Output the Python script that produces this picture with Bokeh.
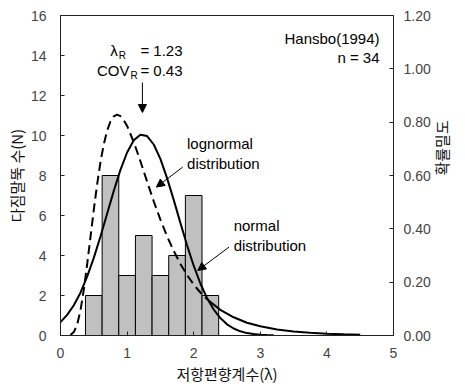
import math
from bokeh.plotting import figure
from bokeh.models import (Range1d, LinearAxis, FixedTicker, NumeralTickFormatter,
                          Arrow, NormalHead, Label, ColumnDataSource)
from bokeh.embed import file_html
from bokeh.resources import INLINE

# ---------------- data ----------------
bin_centers = [0.5, 0.75, 1.0, 1.25, 1.5, 1.75, 2.0, 2.25]
counts = [2, 8, 3, 5, 3, 4, 7, 2]
bin_width = 0.25

normal_x = [0.0, 0.1, 0.2, 0.3, 0.4, 0.5, 0.6, 0.7, 0.8, 0.9, 1.0, 1.1, 1.2,
            1.3, 1.4, 1.5, 1.6, 1.7, 1.8, 1.9, 2.0, 2.1, 2.2, 2.3, 2.4, 2.5,
            2.6, 2.7, 2.8, 2.9, 3.0, 3.1, 3.2]
normal_y = [0.67, 1.03, 1.51, 2.14, 2.94, 3.88, 4.95, 6.09, 7.23, 8.28, 9.15,
            9.76, 10.04, 9.97, 9.55, 8.83, 7.87, 6.78, 5.63, 4.51, 3.49, 2.60,
            1.87, 1.30, 0.87, 0.56, 0.35, 0.21, 0.12, 0.07, 0.04, 0.02, 0.01]

lognormal_x = [0.15, 0.2, 0.25, 0.3, 0.35, 0.4, 0.45, 0.5, 0.55, 0.6, 0.65,
               0.7, 0.75, 0.8, 0.85, 0.9, 0.95, 1.0, 1.1, 1.2, 1.3, 1.4, 1.5,
               1.6, 1.7, 1.8, 1.9, 2.0, 2.1, 2.2, 2.4, 2.6, 2.8, 3.0, 3.25,
               3.5, 3.75, 4.0, 4.25, 4.5]
lognormal_y = [0.03, 0.17, 0.55, 1.26, 2.29, 3.55, 4.92, 6.29, 7.56, 8.67,
               9.56, 10.24, 10.70, 10.96, 11.04, 10.97, 10.77, 10.48, 9.67,
               8.71, 7.70, 6.71, 5.79, 4.96, 4.23, 3.58, 3.03, 2.55, 2.15,
               1.81, 1.28, 0.91, 0.64, 0.46, 0.30, 0.20, 0.135, 0.09, 0.06,
               0.04]

x_ticks = [0, 1, 2, 3, 4, 5]
left_ticks = [0, 2, 4, 6, 8, 10, 12, 14, 16]
right_ticks = [0.0, 0.2, 0.4, 0.6, 0.8, 1.0, 1.2]

mean_lambda = 1.23
cov_lambda = 0.43
n_piles = 34

# ---------------- figure ----------------
TICK_FONT = "Liberation Sans"
KR_FONT = "Noto Sans CJK KR"

p = figure(width=465, height=392, x_range=Range1d(0, 5), y_range=Range1d(0, 16),
           output_backend="svg", toolbar_location=None,
           min_border_left=60, min_border_right=69, min_border_top=15,
           min_border_bottom=57)
p.background_fill_color = "white"
p.border_fill_color = "white"
p.outline_line_color = "#222222"
p.outline_line_width = 1
p.xgrid.visible = False
p.ygrid.visible = False
p.extra_y_ranges = {"pdf": Range1d(0, 1.2)}

src = ColumnDataSource(dict(x=bin_centers, top=counts))
p.vbar(x="x", top="top", width=bin_width, bottom=0, source=src,
       fill_color="#c0c0c0", line_color="black", line_width=1)

split = lognormal_x.index(2.2)
p.line(lognormal_x[:split + 1], lognormal_y[:split + 1], line_color="black",
       line_width=2, line_dash="9 5")
p.line(lognormal_x[split:], lognormal_y[split:], line_color="black",
       line_width=2)
p.line(normal_x, normal_y, line_color="black", line_width=2)

# axes
def style_axis(ax, standoff):
    ax.axis_line_color = "#222222"
    ax.major_tick_in = 4
    ax.major_tick_out = 0
    ax.minor_tick_line_color = None
    ax.major_tick_line_color = "#222222"
    ax.major_label_text_font = TICK_FONT
    ax.major_label_text_font_size = "14px"
    ax.major_label_text_color = "#444444"
    ax.major_label_standoff = standoff
    ax.axis_label_text_font = KR_FONT
    ax.axis_label_text_font_size = "15px"
    ax.axis_label_text_font_style = "normal"
    ax.axis_label_text_color = "#111111"

xa = p.xaxis[0]
xa.ticker = FixedTicker(ticks=x_ticks)
xa.axis_label = "저항편향계수(λ)"
style_axis(xa, 12)
xa.axis_label_standoff = 2

ya = p.yaxis[0]
ya.ticker = FixedTicker(ticks=left_ticks)
ya.axis_label = "다짐말뚝 수(N)"
style_axis(ya, 14)
ya.axis_label_standoff = 1

ra = LinearAxis(y_range_name="pdf", ticker=FixedTicker(ticks=right_ticks),
                formatter=NumeralTickFormatter(format="0.00"),
                axis_label="확률밀도")
style_axis(ra, 10)
ra.axis_label_standoff = 8
ra.axis_label_orientation = math.pi / 2
p.add_layout(ra, "right")

# annotations
def lab(x, y, text, size="15px", align="left", font=TICK_FONT):
    p.add_layout(Label(x=x, y=y, text=text, text_font=font,
                       text_font_size=size, text_align=align,
                       text_baseline="middle", text_color="black"))

lab(0.86, 14.25, "λ", align="right")
lab(0.875, 14.0, "R", size="10px")
lab(1.2, 14.25, "= %.2f" % mean_lambda)
lab(1.035, 13.25, "COV", align="right")
lab(1.05, 13.0, "R", size="10px")
lab(1.2, 13.25, "= %.2f" % cov_lambda)

lab(4.79, 14.85, "Hansbo(1994)", align="right")
lab(4.79, 13.9, "n = %d" % n_piles, align="right")

lab(1.9, 9.6, "lognormal")
lab(1.9, 8.6, "distribution")
lab(2.6, 5.5, "normal")
lab(2.6, 4.5, "distribution")

def arrow(x0, y0, x1, y1):
    p.add_layout(Arrow(end=NormalHead(size=8, fill_color="black",
                                      line_color="black", line_width=1),
                       x_start=x0, y_start=y0, x_end=x1, y_end=y1,
                       line_color="black", line_width=1))

arrow(mean_lambda, 12.65, mean_lambda, 11.15)
arrow(1.835, 8.42, 1.44, 7.42)
arrow(2.53, 4.42, 2.06, 3.25)

open("out.html", "w").write(file_html(p, INLINE))
